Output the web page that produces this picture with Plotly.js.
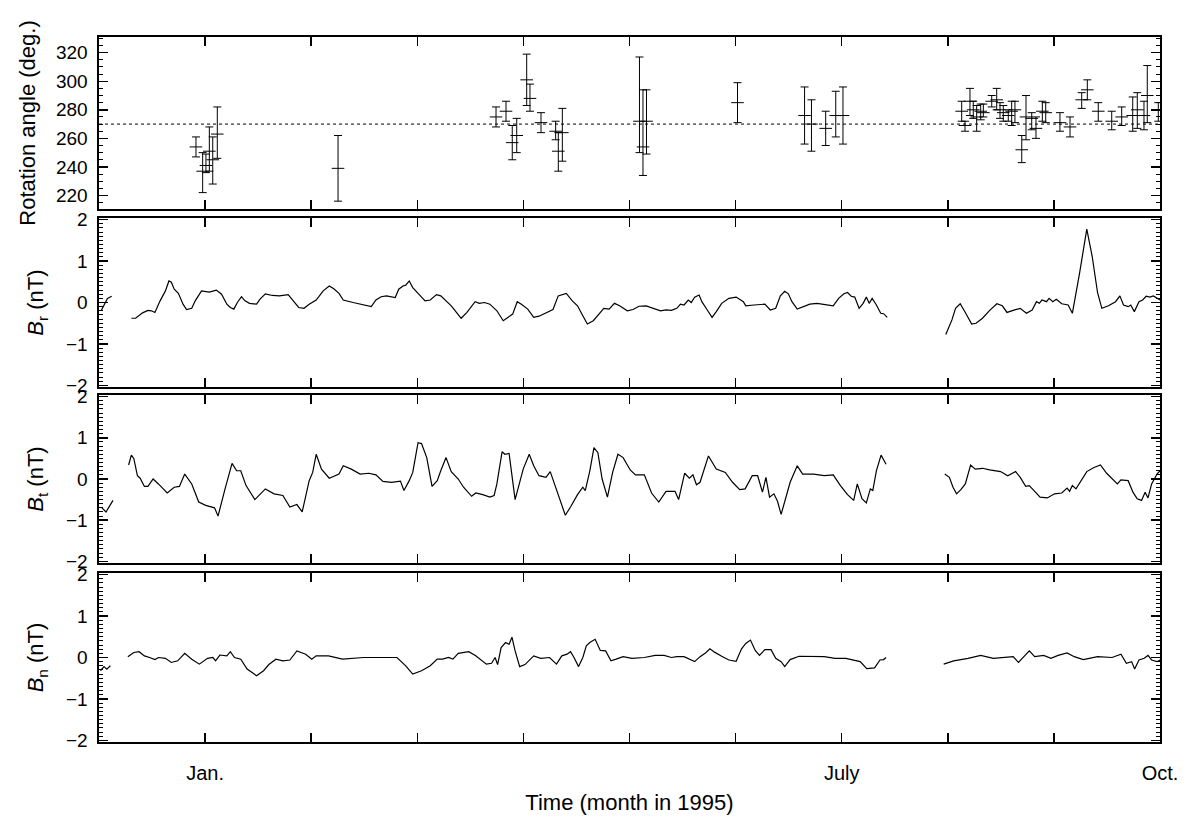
<!DOCTYPE html>
<html>
<head>
<meta charset="utf-8">
<script src="https://cdn.plot.ly/plotly-3.0.1.min.js"></script>
<style>html,body{margin:0;padding:0;background:#fff;}#chart{width:1194px;height:820px;}</style>
</head>
<body>
<div id="chart"></div>
<script>
// Time axis: months since 1 Dec 1994 (1 = Jan 1995, 7 = July, 10 = Oct)
const monthTicks = [1, 2, 3, 4, 5, 6, 7, 8, 9, 10];
const monthLabels = ['Jan.', '', '', '', '', '', 'July', '', '', 'Oct.'];

// Rotation angle (deg.) with error bar limits
const angleMonth = [0.914,0.977,1.008,1.040,1.072,1.115,2.253,
  3.742,3.836,3.895,3.937,4.031,4.062,4.166,4.304,4.329,4.367,
  5.094,5.127,5.160,6.018,6.650,6.715,6.849,6.944,7.012,
  8.131,8.162,8.209,8.240,8.272,8.310,8.335,8.414,8.461,8.492,
  8.523,8.570,8.602,8.633,8.697,8.737,8.791,8.831,8.891,8.923,
  9.057,9.152,9.262,9.315,9.418,9.545,9.639,9.743,9.786,9.849,
  9.880,9.984];
const angleValue = [254,237,241,251,245,263,239,
  275,279,257,262,301,288,271,265,251,264,
  272,254,272,285,276,270,267,276,276,
  279,269,286,280,275,279,278,286,287,280,
  278,276,279,280,252,275,274,267,279,278,
  271,268,287,294,279,272,275,276,280,276,
  290,280];
const angleLow = [247,222,236,237,228,246,216,
  268,272,245,250,283,279,264,259,237,244,
  250,234,249,271,256,251,255,261,256,
  272,265,276,274,265,273,275,282,280,274,
  272,272,269,271,243,259,266,260,272,271,
  265,261,281,287,272,266,269,265,267,266,
  271,272];
const angleHigh = [261,250,249,268,261,282,262,
  282,286,269,274,319,298,278,272,264,281,
  317,294,294,299,296,287,279,293,296,
  286,272,295,286,283,284,284,290,295,285,
  283,280,286,286,262,290,278,275,286,285,
  278,275,292,301,285,279,282,289,292,286,
  311,285];
const angleReference = 270;

// B_r (nT)
const brMonth = [0.02,0.06,0.08,0.12,null,
  0.305,0.345,0.411,0.461,0.494,0.527,0.576,0.626,0.659,0.682,
  0.709,0.748,0.792,0.825,0.874,0.907,0.966,1.040,1.106,1.155,
  1.205,1.238,1.271,1.304,1.343,1.376,1.419,1.485,1.518,1.568,
  1.634,1.700,1.783,1.832,1.882,1.932,1.981,2.047,2.113,2.170,
  2.213,2.262,2.302,2.395,2.494,2.566,2.610,2.659,2.709,2.792,
  2.825,2.865,2.891,2.924,2.957,3.007,3.073,3.122,3.181,3.221,
  3.271,3.320,3.369,3.413,3.468,3.502,3.545,3.584,3.634,3.684,
  3.750,3.810,3.849,3.899,3.942,3.981,4.041,4.097,4.147,4.213,
  4.279,4.328,4.404,4.461,4.510,4.560,4.603,4.659,4.709,4.758,
  4.808,4.858,4.907,4.979,5.033,5.090,
  5.157,5.225,5.293,5.344,5.395,5.446,5.480,5.514,5.554,5.582,
  5.614,5.656,5.682,5.733,5.778,5.818,5.869,5.937,6.005,6.073,
  6.096,6.174,6.276,6.327,6.378,6.422,6.463,6.497,6.531,6.581,
  6.632,6.700,6.768,6.852,6.920,6.971,7.021,7.055,7.090,7.123,
  7.164,7.202,7.232,7.259,7.287,7.327,7.368,7.395,7.429,null,
  7.981,8.039,8.073,8.117,8.165,8.225,8.266,8.327,8.395,8.463,
  8.514,8.558,8.616,8.683,8.741,8.795,8.836,8.863,8.887,8.930,
  8.955,8.989,9.023,9.074,9.134,9.174,9.242,9.310,9.361,9.412,
  9.452,9.514,9.581,9.622,9.656,9.700,9.724,9.758,9.802,9.836,
  9.870,9.904,9.938,9.972,10.0];
const brValue = [-0.2,0.0,0.1,0.15,null,
  -0.38,-0.38,-0.25,-0.19,-0.2,-0.24,0.04,0.28,0.52,0.49,
  0.32,0.22,-0.04,-0.17,-0.14,0.04,0.28,0.25,0.3,0.2,
  -0.04,-0.12,-0.16,0,0.14,0.04,-0.02,-0.04,0.08,0.21,
  0.17,0.16,0.19,0.04,-0.12,-0.14,-0.04,0.06,0.28,0.4,
  0.33,0.22,0.06,0,-0.06,-0.1,0.06,0.14,0.16,0.12,
  0.32,0.4,0.42,0.52,0.36,0.22,0.04,0.06,0.19,0.16,
  0.04,-0.08,-0.24,-0.38,-0.24,-0.12,0.02,-0.02,0,-0.04,
  -0.2,-0.44,-0.36,-0.28,0.02,-0.04,-0.16,-0.36,-0.33,-0.24,
  -0.17,0.16,0.22,0.04,-0.08,-0.32,-0.52,-0.44,-0.28,-0.14,
  -0.16,-0.02,-0.08,-0.2,-0.17,-0.09,
  -0.08,-0.14,-0.2,-0.18,-0.19,-0.14,-0.04,-0.06,0.06,0,
  0.13,0.18,0.02,-0.18,-0.36,-0.22,-0.02,0.1,0.13,0.02,
  -0.08,-0.06,-0.04,-0.18,-0.14,0.16,0.27,0.21,0.02,-0.16,
  -0.11,-0.04,-0.02,-0.06,-0.08,0.1,0.21,0.24,0.15,0.13,
  -0.14,-0.02,0.13,-0.02,0.1,-0.06,-0.26,-0.27,-0.36,null,
  -0.77,-0.42,-0.14,-0.03,-0.24,-0.52,-0.5,-0.38,-0.19,-0.03,
  -0.08,-0.24,-0.19,-0.14,-0.26,-0.18,0.02,-0.02,0.06,0.02,
  0.1,0.02,0.08,-0.03,-0.06,-0.26,0.71,1.77,1.11,0.23,
  -0.14,-0.08,0.02,0.16,-0.06,-0.1,-0.06,-0.22,0.02,0.06,
  0.15,0.13,0.16,0.1,0.06];

// B_t (nT)
const btMonth = [0.028,0.066,0.132,null,
  0.279,0.305,0.328,0.362,0.388,0.428,0.461,0.510,0.560,0.610,
  0.643,0.709,0.758,0.808,0.874,0.940,1.006,1.089,1.122,1.188,
  1.254,1.297,1.336,1.386,1.469,1.568,1.650,1.733,1.799,1.865,
  1.915,1.981,2.014,2.047,2.097,2.170,2.262,2.302,2.378,2.461,
  2.544,2.610,2.676,2.758,2.841,2.874,2.924,2.957,3.007,3.040,
  3.089,3.139,3.188,3.221,3.271,3.320,3.386,3.436,3.512,3.551,
  3.617,3.684,3.724,3.750,3.799,3.826,3.865,3.922,3.998,4.055,
  4.097,4.147,4.213,4.253,4.295,4.345,4.395,4.444,4.510,4.560,
  4.583,4.626,4.665,4.702,4.742,4.792,4.841,4.891,4.940,5.007,
  5.056,5.140,5.208,5.276,5.344,5.429,5.463,5.520,5.564,5.598,
  5.631,5.665,5.744,5.818,5.903,5.971,6.039,6.090,6.157,6.208,
  6.253,6.286,6.320,6.361,6.395,6.429,6.469,6.514,6.581,6.632,
  6.734,6.835,6.920,6.988,7.055,7.113,7.147,7.191,7.232,7.270,
  7.293,7.327,7.371,7.418,null,
  7.971,8.015,8.049,8.083,8.123,8.165,8.215,8.259,8.327,8.395,
  8.497,8.565,8.639,8.683,8.734,8.768,8.819,8.870,8.938,9.006,
  9.074,9.124,9.148,9.174,9.208,9.259,9.310,9.378,9.439,9.497,
  9.548,9.598,9.632,9.700,9.745,9.785,9.826,9.860,9.887,9.921,
  9.972,10.0];
const btValue = [-0.7,-0.8,-0.52,null,
  0.34,0.58,0.5,0.08,0.02,-0.18,-0.18,0,-0.12,-0.24,
  -0.34,-0.2,-0.18,0.12,-0.12,-0.56,-0.64,-0.7,-0.9,-0.24,
  0.38,0.2,0.2,-0.16,-0.5,-0.24,-0.36,-0.4,-0.68,-0.62,
  -0.8,-0.04,0.16,0.6,0.24,0.02,0.12,0.32,0.24,0.12,
  0.14,0.1,-0.06,-0.08,-0.05,-0.28,-0.04,0.16,0.88,0.86,
  0.52,-0.18,-0.04,0.2,0.52,0.18,0,-0.2,-0.42,-0.34,
  -0.38,-0.44,-0.4,-0.12,0.66,0.6,0.62,-0.5,0.24,0.6,
  0.32,0.08,0.04,0.18,-0.12,-0.52,-0.88,-0.68,-0.38,-0.2,
  -0.28,0.2,0.76,0.64,0,-0.44,0.16,0.6,0.52,0.22,
  0.1,0.1,-0.34,-0.56,-0.3,-0.3,-0.5,0.14,0.02,0.1,
  -0.14,-0.08,0.56,0.24,0.16,-0.08,-0.26,-0.24,0.08,0.08,
  -0.32,0.04,-0.44,-0.36,-0.54,-0.86,-0.52,-0.08,0.32,0.12,
  0.12,0.08,0.1,-0.16,-0.38,-0.52,-0.12,-0.48,-0.58,-0.24,
  -0.28,0.2,0.58,0.36,null,
  0.12,0.04,-0.2,-0.36,-0.26,-0.12,0.34,0.24,0.26,0.22,
  0.18,0.08,0.18,0.04,-0.18,-0.16,-0.3,-0.44,-0.46,-0.36,
  -0.34,-0.22,-0.3,-0.16,-0.24,-0.02,0.18,0.28,0.34,0.14,
  0,-0.12,-0.02,-0.04,-0.32,-0.48,-0.52,-0.32,-0.46,-0.12,
  0.12,0.2];

// B_n (nT)
const bnMonth = [0.014,0.047,0.074,0.107,null,
  0.272,0.328,0.378,0.428,0.477,0.527,0.560,0.626,0.682,0.742,
  0.808,0.874,0.946,1.023,1.073,1.099,1.139,1.205,1.238,1.277,
  1.336,1.396,1.485,1.551,1.601,1.667,1.733,1.799,1.865,1.948,
  2.005,2.047,2.163,2.295,2.494,2.659,2.808,2.891,2.957,3.040,
  3.122,3.188,3.237,3.294,3.336,3.386,3.485,3.551,3.651,3.700,
  3.733,3.757,3.790,3.832,3.865,3.892,3.922,3.965,4.015,4.097,
  4.163,4.246,4.312,4.362,4.411,4.444,4.477,4.520,4.560,4.593,
  4.626,4.676,4.725,4.775,4.825,4.874,4.940,5.023,5.140,5.242,
  5.327,5.395,5.446,5.514,5.564,5.614,5.665,5.716,5.758,5.801,
  5.869,5.937,6.005,6.056,6.096,6.140,6.185,6.225,6.276,6.334,
  6.378,6.429,6.463,6.514,6.598,6.700,6.835,6.937,7.039,7.174,
  7.236,7.310,7.361,7.395,7.418,null,
  7.961,8.055,8.191,8.310,8.429,8.582,8.616,8.666,8.717,8.768,
  8.819,8.904,8.972,9.040,9.124,9.192,9.277,9.412,9.548,9.632,
  9.683,9.733,9.761,9.802,9.851,9.887,9.921,9.972,10.0];
const bnValue = [-0.32,-0.22,-0.28,-0.2,null,
  0.02,0.12,0.14,0.04,0,-0.05,0,-0.02,-0.12,-0.08,
  0.1,-0.04,-0.16,-0.02,0,-0.08,0.06,0.04,0.14,0,
  -0.04,-0.28,-0.44,-0.32,-0.17,-0.04,-0.08,-0.06,0.16,0.08,
  -0.04,0.04,0.04,-0.04,0,0,0,-0.2,-0.4,-0.32,
  -0.2,-0.04,-0.04,0,-0.04,0.1,0.14,0.04,-0.16,-0.14,
  0,-0.17,0.24,0.36,0.32,0.49,0.16,-0.22,-0.17,0.04,
  -0.02,0,-0.16,0.04,0.08,0.14,0,-0.22,0,0.28,
  0.36,0.44,0.17,0.16,-0.08,-0.04,0.02,-0.02,0,0.05,
  0.05,0,0.02,0.02,-0.05,-0.1,0.02,0.11,0.21,0.13,
  0.03,-0.06,-0.09,0.21,0.34,0.42,0.17,0.05,0.19,0.19,
  -0.02,-0.1,-0.22,-0.05,0.03,0.02,0.02,-0.02,-0.02,-0.1,
  -0.27,-0.25,-0.06,-0.05,0,null,
  -0.16,-0.08,-0.02,0.05,-0.02,0.02,0.02,-0.12,0.02,0.16,
  0.02,0.05,-0.02,0.05,0.11,0.02,-0.05,0.02,0,0.08,
  -0.14,-0.1,-0.28,-0.06,-0.02,0.05,-0.06,-0.1,-0.06];

const FONT = 'Liberation Sans, Arial, Helvetica, sans-serif';
const lineStyle = {color: 'black', width: 1.2};
const angleRange = [210.5, 331];
const bRange = [-2.04, 2.04];

const traces = [
  {
    x: angleMonth, y: angleValue, xaxis: 'x', yaxis: 'y',
    type: 'scatter', mode: 'markers',
    marker: {symbol: 'line-ew', size: 9, color: 'black', line: {color: 'black', width: 1}},
    error_y: {
      type: 'data', symmetric: false,
      array: angleHigh.map((h, i) => h - angleValue[i]),
      arrayminus: angleLow.map((l, i) => angleValue[i] - l),
      color: 'black', thickness: 1, width: 4
    },
    showlegend: false, hoverinfo: 'skip'
  },
  {x: brMonth, y: brValue, xaxis: 'x2', yaxis: 'y2', type: 'scatter', mode: 'lines', line: lineStyle, connectgaps: false, showlegend: false},
  {x: btMonth, y: btValue, xaxis: 'x3', yaxis: 'y3', type: 'scatter', mode: 'lines', line: lineStyle, connectgaps: false, showlegend: false},
  {x: bnMonth, y: bnValue, xaxis: 'x4', yaxis: 'y4', type: 'scatter', mode: 'lines', line: lineStyle, connectgaps: false, showlegend: false},
  // transparent copies that carry the right-side overlay axes (whose mirrored ticks fill the left frame edge)
  {x: angleMonth, y: angleValue, xaxis: 'x', yaxis: 'y5', type: 'scatter', mode: 'markers', marker: {opacity: 0}, showlegend: false, hoverinfo: 'skip'},
  {x: brMonth, y: brValue, xaxis: 'x2', yaxis: 'y6', type: 'scatter', mode: 'lines', opacity: 0, showlegend: false, hoverinfo: 'skip'},
  {x: btMonth, y: btValue, xaxis: 'x3', yaxis: 'y7', type: 'scatter', mode: 'lines', opacity: 0, showlegend: false, hoverinfo: 'skip'},
  {x: bnMonth, y: bnValue, xaxis: 'x4', yaxis: 'y8', type: 'scatter', mode: 'lines', opacity: 0, showlegend: false, hoverinfo: 'skip'}
];

const xBase = {
  domain: [0, 1], range: [0, 10], tickmode: 'array', tickvals: monthTicks, ticktext: monthLabels,
  ticks: 'inside', ticklen: 9, tickwidth: 1.5, tickcolor: 'black',
  showline: true, linecolor: 'black', linewidth: 1.6, mirror: 'ticks',
  showgrid: false, zeroline: false, showticklabels: false, fixedrange: true
};
const yBase = {
  tickmode: 'linear', ticks: 'inside', ticklen: 9, tickwidth: 1.5, tickcolor: 'black',
  showline: true, linecolor: 'black', linewidth: 1.6, mirror: 'ticks',
  showgrid: false, zeroline: false, ticklabelstandoff: 6,
  tickfont: {family: FONT, size: 19, color: 'black'}, automargin: false, fixedrange: true
};
function bAxis(domain, title) {
  return Object.assign({}, yBase, {
    domain: domain, range: bRange, tick0: 0, dtick: 1,
    minor: {ticks: 'inside', ticklen: 4, tickwidth: 1, tickcolor: 'black', tick0: 0, dtick: 0.1, showgrid: false},
    title: {text: title, font: {family: FONT, size: 22, color: 'black'}, standoff: 16}
  });
}
function rightAxis(base, anchor, range, t0, step, minorStep) {
  return {
    overlaying: base, anchor: anchor, side: 'right', range: range,
    tickmode: 'linear', tick0: t0, dtick: step, ticks: 'inside', ticklen: 9, tickwidth: 1.5, tickcolor: 'black',
    minor: {ticks: 'inside', ticklen: 4, tickwidth: 1, tickcolor: 'black', tick0: 0, dtick: minorStep, showgrid: false},
    showline: true, linecolor: 'black', linewidth: 1.6, mirror: 'ticks',
    showgrid: false, zeroline: false, showticklabels: false, fixedrange: true, automargin: false
  };
}

const layout = {
  width: 1194, height: 820,
  margin: {l: 99, r: 34, t: 37, b: 78},
  paper_bgcolor: 'white', plot_bgcolor: 'white',
  font: {family: FONT, color: 'black'},
  showlegend: false,
  xaxis: Object.assign({}, xBase, {anchor: 'y'}),
  xaxis2: Object.assign({}, xBase, {anchor: 'y2'}),
  xaxis3: Object.assign({}, xBase, {anchor: 'y3'}),
  xaxis4: Object.assign({}, xBase, {
    anchor: 'y4', showticklabels: true, ticklabelstandoff: 12,
    tickfont: {family: FONT, size: 20, color: 'black'},
    title: {text: 'Time (month in 1995)', font: {family: FONT, size: 22, color: 'black'}, standoff: 12},
    automargin: false
  }),
  yaxis: Object.assign({}, yBase, {
    domain: [0.756, 1], range: angleRange, tick0: 220, dtick: 20, anchor: 'x',
    minor: {ticks: 'inside', ticklen: 4, tickwidth: 1, tickcolor: 'black', tick0: 0, dtick: 5, showgrid: false},
    title: {text: 'Rotation angle (deg.)', font: {family: FONT, size: 22, color: 'black'}, standoff: 14}
  }),
  yaxis2: Object.assign(bAxis([0.5035, 0.7433], '<i>B</i><sub>r</sub> (nT)'), {anchor: 'x2'}),
  yaxis3: Object.assign(bAxis([0.2539, 0.4922], '<i>B</i><sub>t</sub> (nT)'), {anchor: 'x3'}),
  yaxis4: Object.assign(bAxis([0, 0.2397], '<i>B</i><sub>n</sub> (nT)'), {anchor: 'x4'}),
  yaxis5: rightAxis('y', 'x', angleRange, 220, 20, 5),
  yaxis6: rightAxis('y2', 'x2', bRange, 0, 1, 0.1),
  yaxis7: rightAxis('y3', 'x3', bRange, 0, 1, 0.1),
  yaxis8: rightAxis('y4', 'x4', bRange, 0, 1, 0.1),
  shapes: [{
    type: 'line', xref: 'x', yref: 'y', x0: 0, x1: 10, y0: angleReference, y1: angleReference,
    line: {color: 'black', width: 1, dash: 'dot'}
  }]
};

Plotly.newPlot('chart', traces, layout, {staticPlot: true, displayModeBar: false});
</script>
</body>
</html>
